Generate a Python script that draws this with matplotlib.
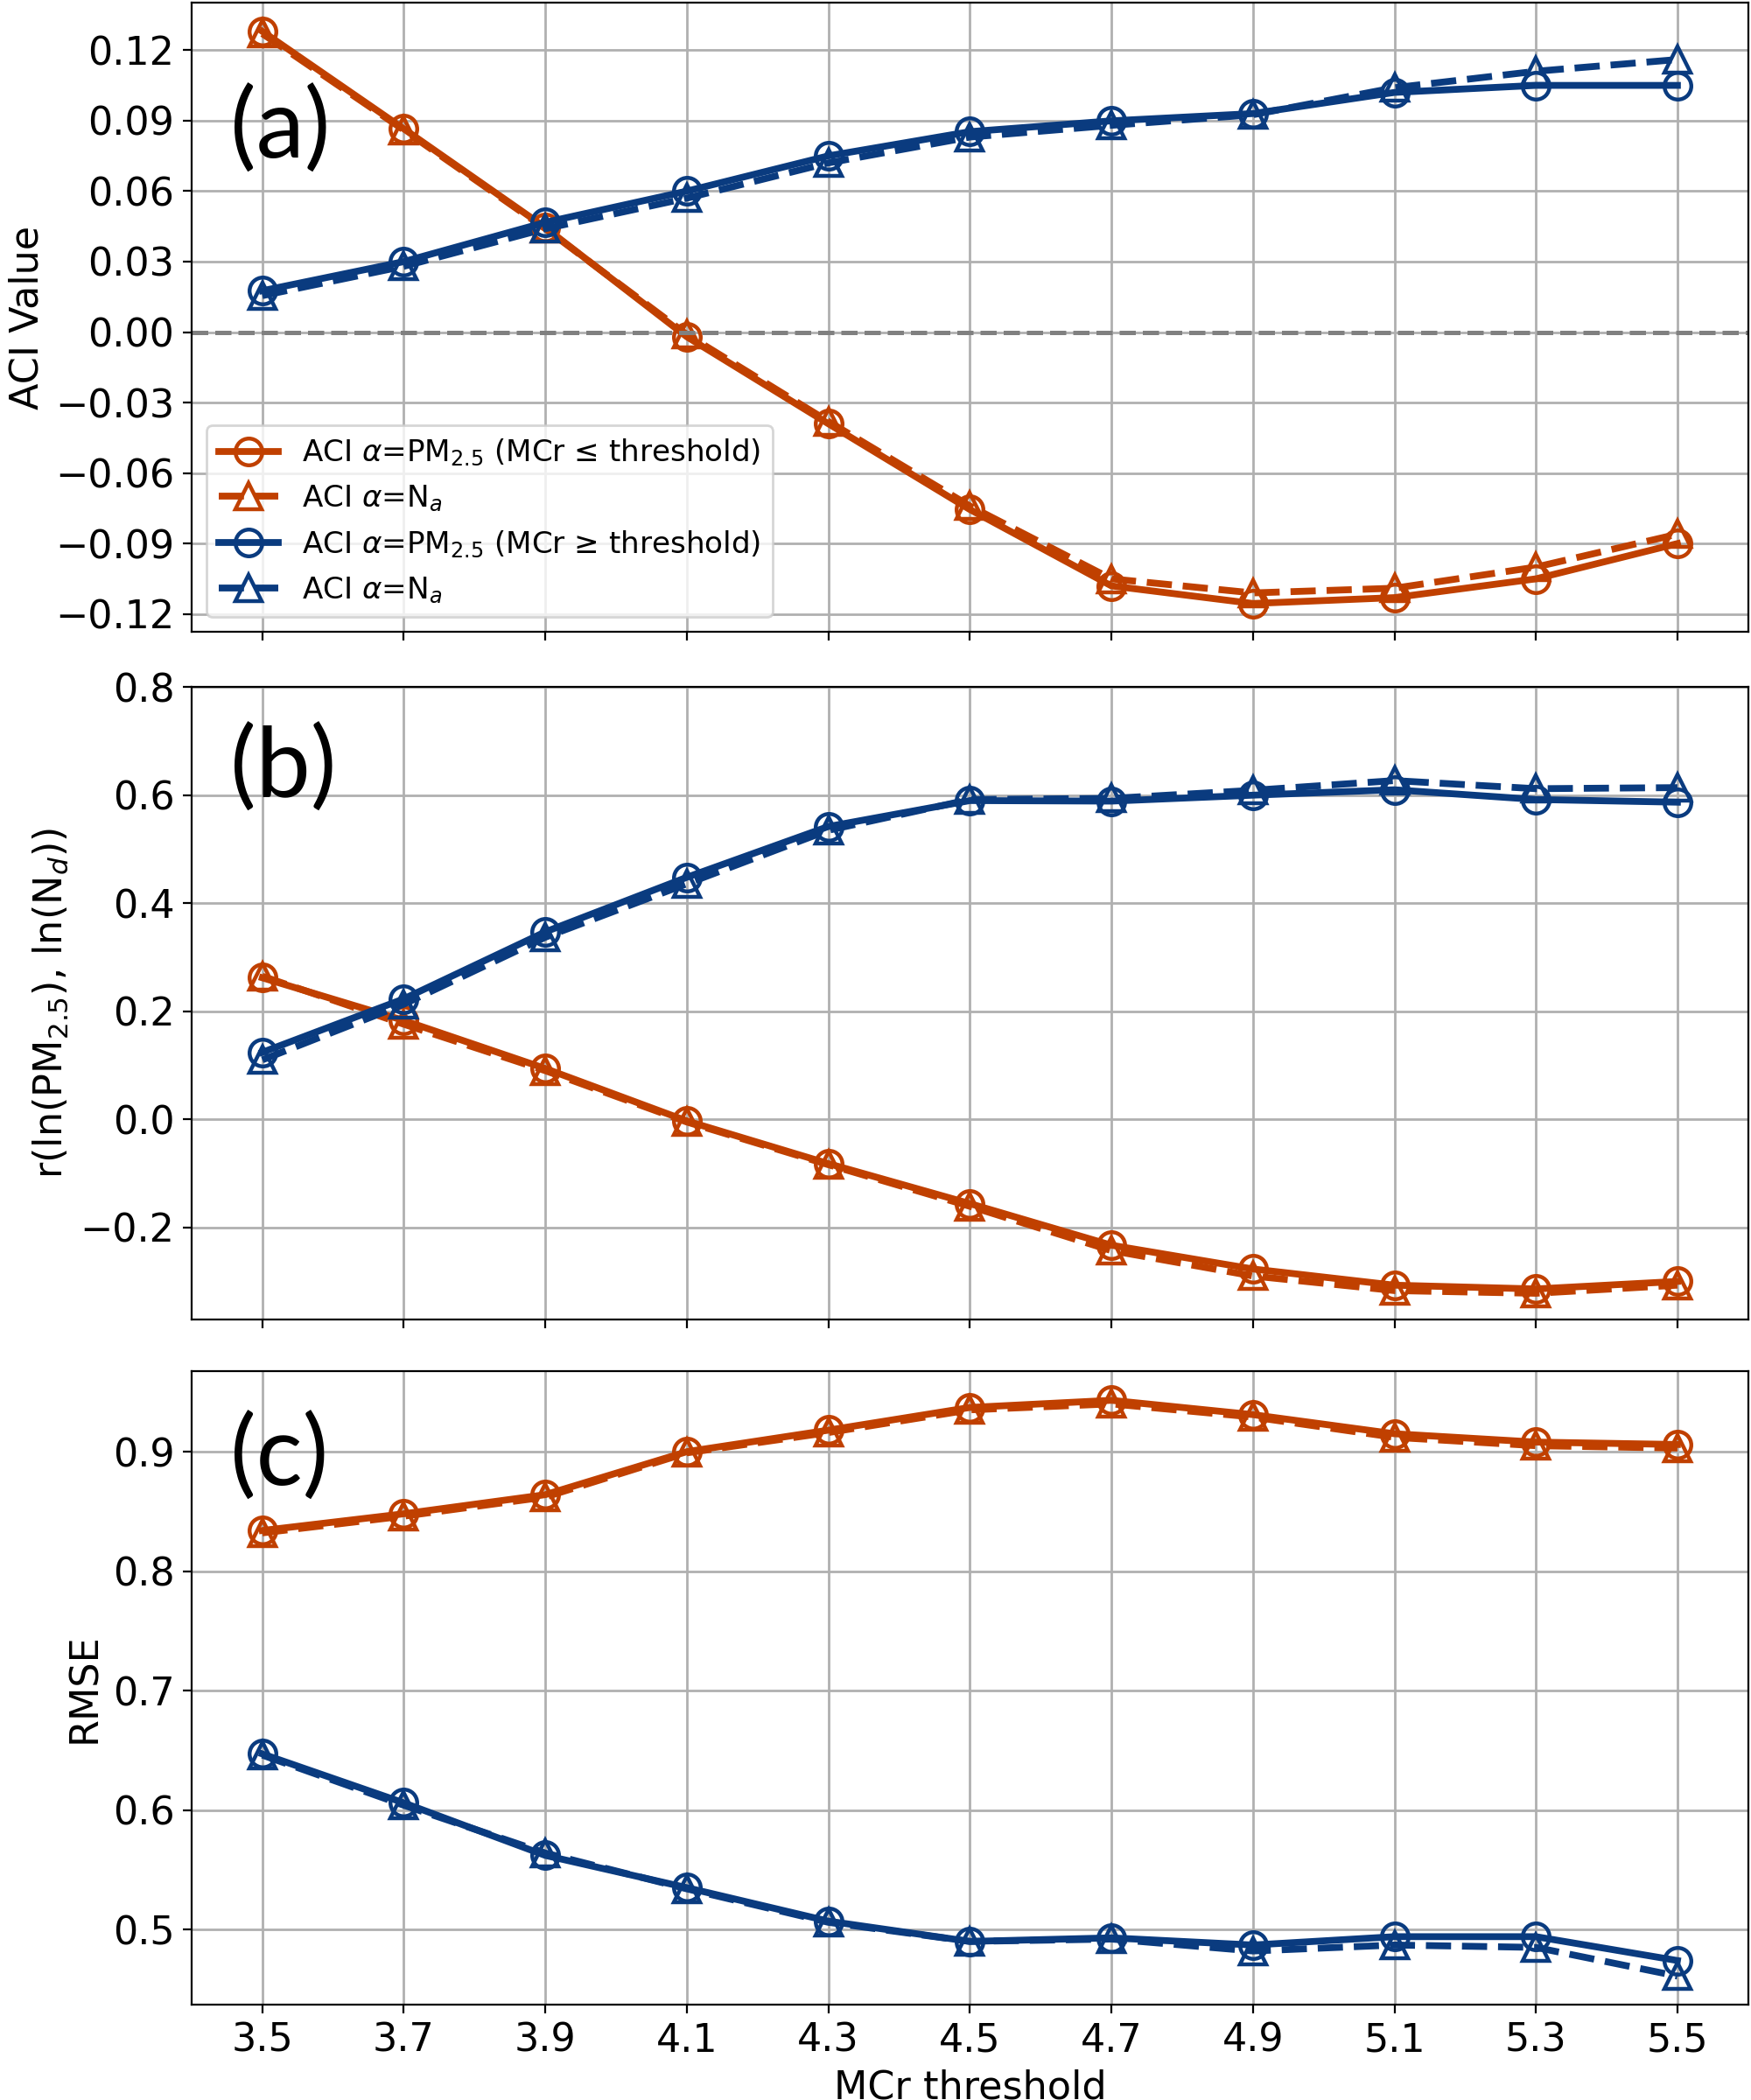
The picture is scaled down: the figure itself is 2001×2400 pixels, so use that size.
import matplotlib
matplotlib.use("Agg")
import matplotlib.pyplot as plt

thresholds = [3.5, 3.7, 3.9, 4.1, 4.3, 4.5, 4.7, 4.9, 5.1, 5.3, 5.5]

# (a) ACI values
aci_low_pm = [0.128, 0.0865, 0.0445, -0.002, -0.039, -0.0755, -0.108, -0.1155, -0.113, -0.105, -0.090]
aci_low_na = [0.127, 0.086, 0.044, -0.001, -0.038, -0.074, -0.105, -0.111, -0.109, -0.100, -0.086]
aci_high_pm = [0.0176, 0.030, 0.0467, 0.060, 0.075, 0.0853, 0.0899, 0.093, 0.102, 0.105, 0.105]
aci_high_na = [0.0155, 0.028, 0.044, 0.057, 0.072, 0.083, 0.088, 0.0925, 0.104, 0.111, 0.116]

# (b) correlation
r_low_pm = [0.262, 0.183, 0.094, -0.003, -0.082, -0.156, -0.233, -0.277, -0.307, -0.314, -0.300]
r_low_na = [0.265, 0.176, 0.090, -0.005, -0.084, -0.161, -0.243, -0.290, -0.317, -0.322, -0.307]
r_high_pm = [0.124, 0.223, 0.347, 0.448, 0.542, 0.590, 0.589, 0.600, 0.610, 0.592, 0.587]
r_high_na = [0.110, 0.213, 0.337, 0.436, 0.535, 0.592, 0.594, 0.609, 0.627, 0.612, 0.614]

# (c) RMSE
rmse_low_pm = [0.834, 0.848, 0.864, 0.900, 0.918, 0.937, 0.943, 0.931, 0.915, 0.908, 0.906]
rmse_low_na = [0.832, 0.846, 0.862, 0.899, 0.916, 0.935, 0.940, 0.929, 0.912, 0.905, 0.903]
rmse_high_pm = [0.647, 0.606, 0.562, 0.535, 0.507, 0.490, 0.493, 0.487, 0.494, 0.494, 0.474]
rmse_high_na = [0.646, 0.604, 0.564, 0.534, 0.506, 0.490, 0.492, 0.482, 0.487, 0.485, 0.461]

orange = "#c04000"
blue = "#0a3b7f"

plt.rcParams["font.size"] = 16

fig = plt.figure(figsize=(10.005, 12), dpi=200)
ax_a = fig.add_axes([0.1094, 0.699, 0.889, 0.2997])
ax_b = fig.add_axes([0.1094, 0.3718, 0.889, 0.301], sharex=ax_a)
ax_c = fig.add_axes([0.1094, 0.0453, 0.889, 0.3016], sharex=ax_a)


def draw(ax, low_pm, low_na, high_pm, high_na):
    kw = dict(lw=2.8, ms=11, mfc="none", mew=1.6)
    ax.plot(thresholds, low_pm, "-o", color=orange,
            label=r"ACI $\alpha$=PM$_{2.5}$ (MCr ≤ threshold)", **kw)
    ax.plot(thresholds, low_na, "--^", color=orange,
            label=r"ACI $\alpha$=N$_a$", **kw)
    ax.plot(thresholds, high_pm, "-o", color=blue,
            label=r"ACI $\alpha$=PM$_{2.5}$ (MCr ≥ threshold)", **kw)
    ax.plot(thresholds, high_na, "--^", color=blue,
            label=r"ACI $\alpha$=N$_a$", **kw)
    ax.grid(True, color="#b0b0b0", lw=1)
    ax.set_axisbelow(True)


draw(ax_a, aci_low_pm, aci_low_na, aci_high_pm, aci_high_na)
ax_a.axhline(0, color="gray", ls="--", lw=1.8)
ax_a.set_yticks([-0.12, -0.09, -0.06, -0.03, 0.0, 0.03, 0.06, 0.09, 0.12])
ax_a.set_ylabel("ACI Value")
ax_a.legend(loc="lower left", fontsize=12.3, framealpha=0.8)
ax_a.text(0.025, 0.868, "(a)", transform=ax_a.transAxes, fontsize=40,
          family="Lato", va="top")

draw(ax_b, r_low_pm, r_low_na, r_high_pm, r_high_na)
ax_b.set_ylim(-0.37, 0.8)
ax_b.set_yticks([-0.2, 0.0, 0.2, 0.4, 0.6, 0.8])
ax_b.set_ylabel(r"r(ln(PM$_{2.5}$), ln(N$_d$))")
ax_b.text(0.025, 0.942, "(b)", transform=ax_b.transAxes, fontsize=40,
          family="Lato", va="top")

draw(ax_c, rmse_low_pm, rmse_low_na, rmse_high_pm, rmse_high_na)
ax_c.set_yticks([0.5, 0.6, 0.7, 0.8, 0.9])
ax_c.set_ylabel("RMSE")
ax_c.set_xlabel("MCr threshold")
ax_c.text(0.025, 0.935, "(c)", transform=ax_c.transAxes, fontsize=40,
          family="Lato", va="top")

ax_c.set_xticks(thresholds)
ax_c.set_xticklabels([f"{t:.1f}" for t in thresholds])
plt.setp(ax_a.get_xticklabels(), visible=False)
plt.setp(ax_b.get_xticklabels(), visible=False)

fig.savefig("out.png", dpi=200)
